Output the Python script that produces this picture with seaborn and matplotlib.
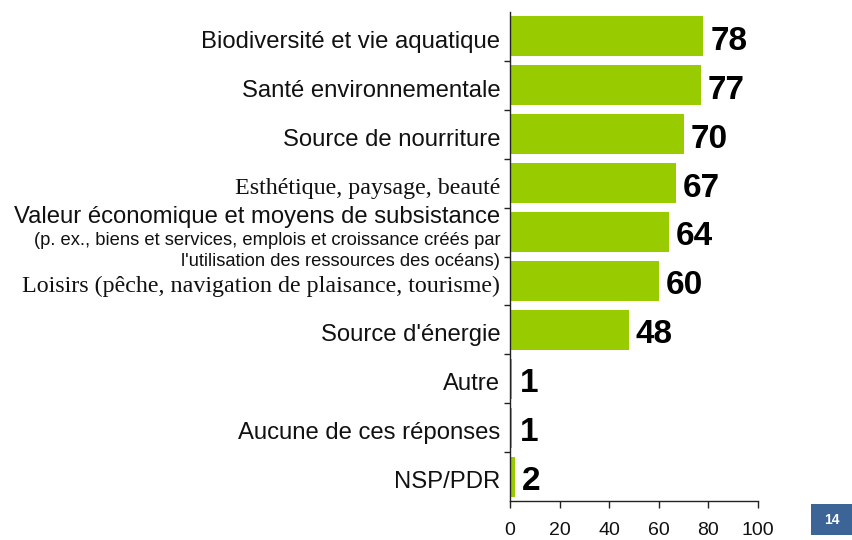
import matplotlib
matplotlib.use("Agg")
import matplotlib.pyplot as plt
import matplotlib.transforms as mtrans
import seaborn as sns
import pandas as pd
from matplotlib.patches import Rectangle

categories = [
    "Biodiversité et vie aquatique",
    "Santé environnementale",
    "Source de nourriture",
    "Esthétique, paysage, beauté",
    "Valeur économique et moyens de subsistance",
    "Loisirs (pêche, navigation de plaisance, tourisme)",
    "Source d'énergie",
    "Autre",
    "Aucune de ces réponses",
    "NSP/PDR",
]
values = [78, 77, 70, 67, 64, 60, 48, 1, 1, 2]
sub_label = "(p. ex., biens et services, emplois et croissance créés par\nl'utilisation des ressources des océans)"
serif_labels = ["Esthétique, paysage, beauté", "Loisirs (pêche, navigation de plaisance, tourisme)"]
x_ticks = [0, 20, 40, 60, 80, 100]
page_number = "14"

sns.set_theme(style="white")
plt.rcParams['font.family'] = ['Liberation Sans', 'DejaVu Sans']

df = pd.DataFrame({"cat": categories, "val": values})

W, H = 853, 540
fig = plt.figure(figsize=(W / 100, H / 100), dpi=100)
ax = fig.add_axes([510 / W, (540 - 501) / H, 248 / W, 489 / H])

sns.barplot(data=df, x="val", y="cat", orient="h", color="#99cc00",
            saturation=1, width=0.82, ax=ax, edgecolor="none")

ax.set_xlim(0, 100)
ax.set_ylim(len(categories) - 0.5, -0.5)
ax.set_xticks(x_ticks)
ax.set_xticklabels([str(t) for t in x_ticks], fontsize=14, color="#111111")
ax.set_xlabel("")
ax.set_ylabel("")

for s in ["top", "right"]:
    ax.spines[s].set_visible(False)
for s in ["left", "bottom"]:
    ax.spines[s].set_color("#222222")
    ax.spines[s].set_linewidth(1.0)

ax.tick_params(axis="x", direction="out", length=5, width=1, color="#222222", pad=10, bottom=True)
ax.set_yticks(range(len(categories)))
labels = [c if c != "Valeur économique et moyens de subsistance" else "" for c in categories]
ax.set_yticklabels(labels, fontsize=17.2, color="#111111")
ax.tick_params(axis="y", length=0, pad=7, left=False)
ax.set_yticks([i + 0.5 for i in range(len(categories) - 1)], minor=True)
ax.tick_params(axis="y", which="minor", direction="out", length=4, width=1, color="#222222", left=True)

shift = mtrans.ScaledTranslation(0, -3 / 100, fig.dpi_scale_trans)
for lab in ax.get_yticklabels():
    lab.set_transform(lab.get_transform() + shift)
    if lab.get_text() in serif_labels:
        lab.set_fontfamily(['Liberation Serif', 'DejaVu Serif'])
        lab.set_fontsize(17.3)

# multi-line label for "Valeur économique"
vi = categories.index("Valeur économique et moyens de subsistance")
ax.annotate("Valeur économique et moyens de subsistance", xy=(0, vi), xycoords=("axes fraction", "data"),
            xytext=(-7, 11), textcoords="offset points", ha="right", va="center",
            fontsize=17.2, color="#111111")
ax.annotate(sub_label, xy=(0, vi), xycoords=("axes fraction", "data"),
            xytext=(-7, 0), textcoords="offset points", ha="right", va="top",
            fontsize=13.2, color="#111111", linespacing=1.32)

for i, v in enumerate(values):
    ax.annotate(str(v), xy=(v, i), xytext=(5, -3.5), textcoords="offset points",
                ha="left", va="center", fontsize=24, fontweight="bold", color="#000000")

# page number box
fig.patches.append(Rectangle((811 / W, 5 / H), 42 / W, 31 / H, transform=fig.transFigure,
                             facecolor="#3d6496", edgecolor="none"))
fig.text(832 / W, 20.5 / H, page_number, ha="center", va="center", color="white",
         fontsize=10, fontweight="bold")

fig.savefig("out.png", dpi=100)
